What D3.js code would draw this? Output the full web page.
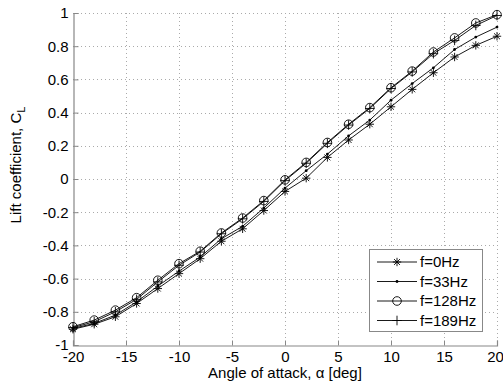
<!DOCTYPE html>
<html><head><meta charset="utf-8">
<script src="https://cdn.jsdelivr.net/npm/d3@7"></script>
<style>body{margin:0;background:#fff}svg{display:block}text{font-family:"Liberation Sans",Arial,sans-serif;fill:#000}</style>
</head><body><svg id="c" width="503" height="384"></svg>
<script>
const angles = [-20,-18,-16,-14,-12,-10,-8,-6,-4,-2,0,2,4,6,8,10,12,14,16,18,20];
const f0   = [-0.905,-0.875,-0.83,-0.75,-0.66,-0.57,-0.48,-0.375,-0.30,-0.19,-0.075,0.005,0.13,0.235,0.33,0.435,0.54,0.64,0.735,0.805,0.86];
const f33  = [-0.90,-0.87,-0.82,-0.74,-0.645,-0.555,-0.47,-0.36,-0.285,-0.175,-0.055,0.05,0.15,0.26,0.355,0.475,0.575,0.67,0.78,0.855,0.915];
const f128 = [-0.89,-0.85,-0.79,-0.715,-0.61,-0.51,-0.435,-0.325,-0.235,-0.13,-0.005,0.10,0.22,0.33,0.43,0.55,0.65,0.765,0.85,0.94,0.99];
const f189 = [-0.895,-0.86,-0.80,-0.725,-0.62,-0.52,-0.44,-0.33,-0.24,-0.135,-0.01,0.095,0.215,0.325,0.425,0.545,0.645,0.755,0.835,0.925,0.985];
const seriesNames = ["f=0Hz","f=33Hz","f=128Hz","f=189Hz"];
const seriesMarkers = ["star","dot","circle","plus"];
const xTicks = [-20,-15,-10,-5,0,5,10,15,20];
const yTicks = [-1,-0.8,-0.6,-0.4,-0.2,0,0.2,0.4,0.6,0.8,1];
const xTitle = "Angle of attack, \u03b1 [deg]";

const svg = d3.select("#c");
const L=73,R=497,T=13,B=345;
const x = d3.scaleLinear().domain([-20,20]).range([L,R]);
const y = d3.scaleLinear().domain([-1,1]).range([B,T]);
const series = [f0,f33,f128,f189];

// grid
const g = svg.append("g");
g.selectAll(".gx").data(xTicks.slice(1)).enter().append("line")
  .attr("x1",d=>x(d)+0.5).attr("x2",d=>x(d)+0.5).attr("y1",T).attr("y2",B)
  .attr("stroke","#aaa").attr("stroke-width",1).attr("stroke-dasharray","1,3");
g.selectAll(".gy").data(yTicks.slice(1)).enter().append("line")
  .attr("y1",d=>Math.round(y(d))+0.5).attr("y2",d=>Math.round(y(d))+0.5).attr("x1",L).attr("x2",R)
  .attr("stroke","#aaa").attr("stroke-width",1).attr("stroke-dasharray","1,3");

// axes
const fmt = d => (Math.abs(d)<1e-9?"0":String(+d.toFixed(1)));
const xa = svg.append("g").attr("transform",`translate(0,${B+0.5})`)
  .call(d3.axisBottom(x).tickValues(xTicks).tickSize(-5).tickPadding(6).tickFormat(d=>String(d)));
const ya = svg.append("g").attr("transform",`translate(${L+0.5},0)`)
  .call(d3.axisLeft(y).tickValues(yTicks).tickSize(-5).tickPadding(6).tickFormat(fmt));
[xa,ya].forEach(a=>{
  a.select(".domain").attr("stroke","#888").attr("stroke-width",1.2);
  a.selectAll(".tick line").attr("stroke","#888");
  a.selectAll("text").attr("font-size",15).attr("font-family","Liberation Sans, Arial, sans-serif").attr("fill","#000");
});
ya.selectAll(".tick text").attr("x",-5);
xa.selectAll(".tick text").filter(d=>d===20).attr("dx",-2);

// lines
const line = d3.line().x((d,i)=>x(angles[i])).y(d=>y(d));
series.forEach(s=>{
  svg.append("path").datum(s).attr("d",line).attr("fill","none").attr("stroke","#000").attr("stroke-width",0.9);
});

function marker(sel,type){
  if(type==="star"){
    const r=4.2;
    [[-r,0,r,0],[0,-r,0,r],[-r*0.7,-r*0.7,r*0.7,r*0.7],[-r*0.7,r*0.7,r*0.7,-r*0.7]].forEach(l=>{
      sel.append("line").attr("x1",l[0]).attr("y1",l[1]).attr("x2",l[2]).attr("y2",l[3]).attr("stroke","#000").attr("stroke-width",0.9);
    });
  } else if(type==="dot"){
    sel.append("circle").attr("r",1.4).attr("fill","#000");
  } else if(type==="circle"){
    sel.append("circle").attr("r",4.3).attr("fill","none").attr("stroke","#000").attr("stroke-width",0.9);
  } else if(type==="plus"){
    const r=4.8;
    sel.append("line").attr("x1",-r).attr("x2",r).attr("y1",0).attr("y2",0).attr("stroke","#000").attr("stroke-width",0.9);
    sel.append("line").attr("x1",0).attr("x2",0).attr("y1",-r).attr("y2",r).attr("stroke","#000").attr("stroke-width",0.9);
  }
}
series.forEach((s,k)=>{
  s.forEach((v,i)=>{
    const m = svg.append("g").attr("transform",`translate(${x(angles[i])},${y(v)})`);
    marker(m,seriesMarkers[k]);
  });
});

// legend
const lg = svg.append("g");
lg.append("rect").attr("x",369.5).attr("y",249.5).attr("width",113).attr("height",82)
  .attr("fill","#fff").attr("stroke","#888").attr("stroke-width",1);
seriesNames.forEach((n,k)=>{
  const yy = 262 + k*19.5;
  lg.append("line").attr("x1",377).attr("x2",417).attr("y1",yy).attr("y2",yy).attr("stroke","#000").attr("stroke-width",0.9);
  const m = lg.append("g").attr("transform",`translate(397,${yy})`);
  marker(m,seriesMarkers[k]);
  lg.append("text").attr("x",420).attr("y",yy).attr("dy","0.35em").attr("font-size",15).text(n);
});

// titles
svg.append("text").attr("x",285).attr("y",378).attr("text-anchor","middle").attr("font-size",15).text(xTitle);
const yt = svg.append("text").attr("transform","translate(21,165) rotate(-90)").attr("text-anchor","middle").attr("font-size",15);
yt.append("tspan").text("Lift coefficient, C");
yt.append("tspan").attr("font-size",11).attr("dy",4).text("L");
</script></body></html>
